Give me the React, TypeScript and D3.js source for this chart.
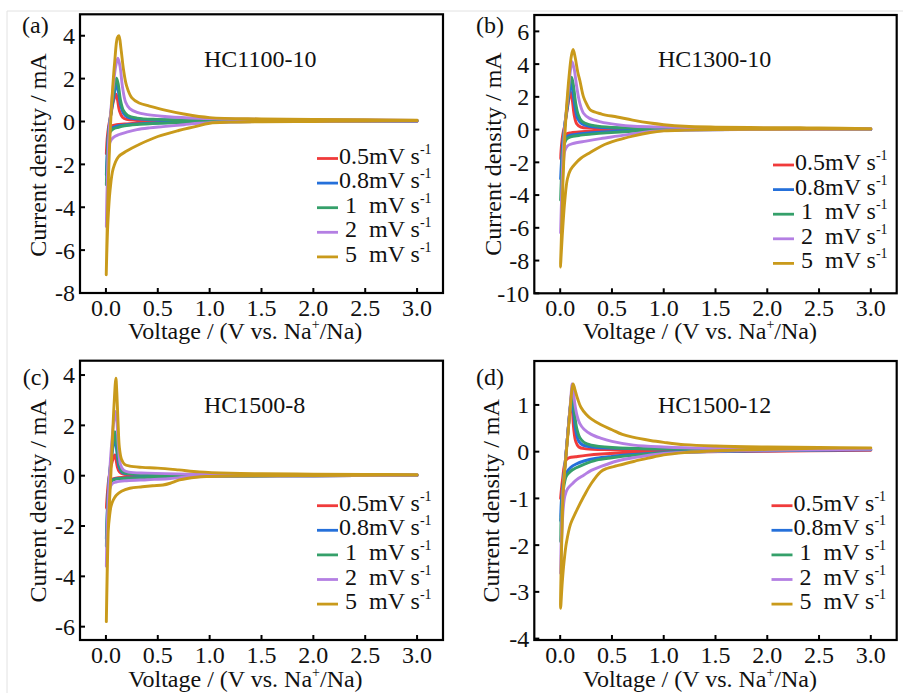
import React from "react";
import * as d3 from "d3";

type P = [number, number];

// ---------- data (Voltage V, Current mA) ----------
// Panel (a) HC1100-10
const A_05: P[] = [[3.0,0.01],[2.0,0.0],[1.0,-0.01],[0.5,-0.04],[0.3,-0.08],[0.18,-0.12],[0.1,-0.15],[0.06,-0.2],[0.035,-0.35],[0.02,-0.6],[0.01,-1.0],[0.004,-1.5],
  [0.012,-0.8],[0.025,-0.25],[0.045,0.25],[0.07,0.9],[0.088,1.2],[0.098,1.27],[0.112,1.0],[0.13,0.5],[0.16,0.2],[0.2,0.1],[0.3,0.06],[1.0,0.04],[2.0,0.03],[3.0,0.02]];
const A_08: P[] = [[3.0,0.02],[2.0,0.0],[1.0,-0.01],[0.6,-0.05],[0.35,-0.1],[0.2,-0.15],[0.12,-0.2],[0.07,-0.28],[0.04,-0.4],[0.025,-0.8],[0.012,-1.5],[0.004,-2.5],
  [0.012,-1.5],[0.025,-0.5],[0.045,0.25],[0.07,1.0],[0.09,1.55],[0.1,1.75],[0.118,1.45],[0.14,0.8],[0.17,0.38],[0.21,0.2],[0.3,0.12],[0.5,0.08],[1.0,0.06],[2.0,0.04],[3.0,0.03]];
const A_1: P[] = [[3.0,0.02],[2.0,0.0],[1.0,-0.01],[0.7,-0.05],[0.45,-0.1],[0.3,-0.14],[0.18,-0.2],[0.12,-0.27],[0.07,-0.35],[0.04,-0.5],[0.025,-0.9],[0.012,-1.8],[0.004,-2.95],
  [0.012,-1.8],[0.025,-0.6],[0.045,0.3],[0.07,1.2],[0.09,1.8],[0.103,2.02],[0.12,1.7],[0.14,1.0],[0.17,0.5],[0.21,0.28],[0.3,0.16],[0.5,0.1],[1.0,0.07],[2.0,0.05],[3.0,0.04]];
const A_2: P[] = [[3.0,0.02],[2.0,0.0],[1.2,-0.02],[0.9,-0.08],[0.75,-0.15],[0.55,-0.24],[0.42,-0.3],[0.3,-0.38],[0.2,-0.5],[0.12,-0.62],[0.07,-0.75],[0.04,-0.95],[0.025,-1.6],[0.012,-3.0],[0.004,-4.9],
  [0.012,-3.0],[0.025,-1.0],[0.045,0.4],[0.07,1.6],[0.095,2.6],[0.115,2.95],[0.135,2.6],[0.16,1.6],[0.19,0.9],[0.23,0.6],[0.3,0.42],[0.4,0.32],[0.6,0.22],[0.9,0.15],[1.5,0.1],[2.2,0.08],[3.0,0.05]];
const A_5: P[] = [[3.0,0.04],[2.5,0.02],[2.0,0.0],[1.5,-0.01],[1.2,-0.03],[1.0,-0.08],[0.85,-0.25],[0.7,-0.42],[0.5,-0.7],[0.33,-1.05],[0.2,-1.38],[0.12,-1.65],[0.07,-2.2],[0.04,-3.2],[0.02,-4.6],[0.008,-6.2],[0.003,-7.15],
  [0.012,-5.0],[0.025,-2.5],[0.04,-0.6],[0.06,1.2],[0.085,2.8],[0.11,3.9],[0.125,4.0],[0.145,3.4],[0.17,2.4],[0.2,1.65],[0.25,1.1],[0.32,0.86],[0.42,0.72],[0.58,0.52],[0.75,0.35],[1.0,0.18],[1.5,0.12],[2.0,0.1],[2.5,0.08],[3.0,0.06]];

// Panel (b) HC1300-10
const B_05: P[] = [[3.0,0.01],[2.0,0.0],[1.0,-0.02],[0.5,-0.06],[0.3,-0.1],[0.18,-0.15],[0.1,-0.2],[0.06,-0.28],[0.035,-0.5],[0.02,-0.9],[0.01,-1.4],[0.004,-1.8],
  [0.012,-1.0],[0.025,-0.3],[0.045,0.3],[0.07,1.3],[0.088,2.0],[0.1,2.3],[0.115,1.9],[0.135,0.9],[0.16,0.35],[0.2,0.15],[0.3,0.08],[1.0,0.04],[2.0,0.03],[3.0,0.02]];
const B_08: P[] = [[3.0,0.02],[2.0,0.0],[1.0,-0.02],[0.6,-0.08],[0.4,-0.15],[0.25,-0.22],[0.15,-0.3],[0.08,-0.38],[0.05,-0.5],[0.03,-0.9],[0.015,-1.8],[0.004,-3.0],
  [0.012,-2.0],[0.025,-0.8],[0.045,0.3],[0.07,1.4],[0.09,2.4],[0.105,2.8],[0.122,2.3],[0.145,1.3],[0.17,0.65],[0.21,0.35],[0.28,0.2],[0.5,0.1],[1.0,0.06],[2.0,0.04],[3.0,0.03]];
const B_1: P[] = [[3.0,0.02],[2.0,0.0],[1.0,-0.03],[0.7,-0.1],[0.45,-0.2],[0.3,-0.28],[0.18,-0.36],[0.1,-0.45],[0.06,-0.6],[0.035,-1.0],[0.02,-2.0],[0.01,-3.2],[0.004,-4.3],
  [0.012,-3.0],[0.025,-1.2],[0.045,0.3],[0.07,1.6],[0.093,2.8],[0.11,3.2],[0.128,2.7],[0.15,1.6],[0.175,0.9],[0.21,0.5],[0.28,0.3],[0.4,0.18],[0.7,0.1],[1.2,0.07],[2.0,0.05],[3.0,0.03]];
const B_2: P[] = [[3.0,0.02],[2.0,0.0],[1.2,-0.03],[0.9,-0.1],[0.71,-0.25],[0.55,-0.4],[0.39,-0.55],[0.25,-0.7],[0.12,-0.86],[0.07,-1.0],[0.045,-1.3],[0.03,-2.2],[0.015,-4.0],[0.004,-6.3],
  [0.012,-4.5],[0.025,-2.0],[0.045,0.2],[0.07,1.8],[0.095,3.4],[0.115,4.15],[0.135,3.7],[0.16,2.6],[0.19,1.6],[0.225,1.0],[0.28,0.7],[0.39,0.47],[0.55,0.3],[0.71,0.2],[1.0,0.15],[1.5,0.1],[2.0,0.08],[3.0,0.05]];
const B_5: P[] = [[3.0,0.04],[2.5,0.03],[2.0,0.02],[1.5,0.0],[1.2,-0.03],[1.0,-0.08],[0.87,-0.18],[0.7,-0.4],[0.55,-0.65],[0.4,-1.0],[0.29,-1.4],[0.2,-1.75],[0.15,-2.05],[0.1,-2.45],[0.07,-3.0],[0.045,-4.3],[0.025,-6.0],[0.01,-7.6],[0.003,-8.4],
  [0.012,-6.5],[0.025,-3.5],[0.04,-1.0],[0.06,1.2],[0.085,3.2],[0.108,4.5],[0.125,4.9],[0.145,4.4],[0.17,3.5],[0.19,3.0],[0.225,2.0],[0.26,1.5],[0.29,1.2],[0.4,0.95],[0.55,0.77],[0.7,0.58],[0.87,0.4],[1.0,0.3],[1.2,0.2],[1.5,0.15],[2.0,0.12],[2.5,0.1],[3.0,0.06]];

// Panel (c) HC1500-8
const C_05: P[] = [[3.0,0.01],[2.0,0.0],[1.0,-0.01],[0.5,-0.03],[0.25,-0.06],[0.12,-0.08],[0.07,-0.12],[0.04,-0.25],[0.02,-0.6],[0.01,-1.0],[0.004,-1.3],
  [0.012,-0.8],[0.025,-0.2],[0.04,0.2],[0.06,0.55],[0.075,0.75],[0.085,0.82],[0.097,0.65],[0.11,0.35],[0.13,0.15],[0.16,0.07],[0.25,0.05],[1.0,0.03],[3.0,0.02]];
const C_08: P[] = [[3.0,0.02],[2.0,0.0],[1.0,-0.02],[0.6,-0.04],[0.35,-0.07],[0.2,-0.09],[0.1,-0.12],[0.06,-0.18],[0.035,-0.35],[0.02,-0.9],[0.01,-1.7],[0.004,-2.5],
  [0.012,-1.6],[0.025,-0.45],[0.04,0.25],[0.06,0.9],[0.075,1.3],[0.086,1.45],[0.098,1.2],[0.112,0.7],[0.13,0.3],[0.16,0.12],[0.22,0.07],[0.5,0.04],[1.5,0.03],[3.0,0.02]];
const C_1: P[] = [[3.0,0.02],[2.0,0.0],[1.0,-0.02],[0.6,-0.05],[0.35,-0.08],[0.2,-0.1],[0.1,-0.13],[0.06,-0.2],[0.035,-0.4],[0.02,-1.0],[0.01,-1.9],[0.004,-2.8],
  [0.012,-1.8],[0.025,-0.5],[0.04,0.3],[0.06,1.0],[0.075,1.5],[0.087,1.75],[0.1,1.4],[0.115,0.8],[0.135,0.35],[0.16,0.15],[0.22,0.08],[0.5,0.05],[1.5,0.03],[3.0,0.02]];
const C_2: P[] = [[3.0,0.02],[2.0,0.0],[1.0,-0.02],[0.8,-0.05],[0.6,-0.12],[0.4,-0.16],[0.2,-0.2],[0.1,-0.25],[0.06,-0.32],[0.035,-0.55],[0.02,-1.2],[0.01,-2.4],[0.004,-3.6],
  [0.012,-2.3],[0.025,-0.7],[0.04,0.4],[0.06,1.5],[0.08,2.3],[0.092,2.55],[0.105,2.2],[0.12,1.2],[0.14,0.45],[0.17,0.22],[0.22,0.14],[0.4,0.1],[0.8,0.06],[1.5,0.04],[3.0,0.03]];
const C_5: P[] = [[3.0,0.03],[2.5,0.02],[2.0,0.01],[1.5,0.0],[1.2,-0.01],[1.0,-0.03],[0.87,-0.06],[0.71,-0.17],[0.62,-0.3],[0.55,-0.37],[0.45,-0.4],[0.35,-0.44],[0.23,-0.5],[0.15,-0.62],[0.1,-0.78],[0.07,-0.97],[0.05,-1.2],[0.035,-1.6],[0.022,-2.2],[0.012,-3.8],[0.004,-5.8],
  [0.012,-4.0],[0.025,-1.8],[0.045,-0.2],[0.06,1.2],[0.078,2.8],[0.096,3.87],[0.105,3.3],[0.118,2.0],[0.13,1.1],[0.15,0.65],[0.18,0.45],[0.23,0.38],[0.35,0.33],[0.5,0.3],[0.7,0.23],[0.9,0.15],[1.2,0.1],[1.5,0.08],[2.0,0.06],[2.5,0.05],[3.0,0.04]];

// Panel (d) HC1500-12
const D_05: P[] = [[3.0,0.03],[2.0,0.01],[1.0,-0.01],[0.6,-0.03],[0.4,-0.05],[0.25,-0.08],[0.15,-0.11],[0.09,-0.13],[0.06,-0.17],[0.04,-0.3],[0.025,-0.55],[0.012,-0.8],[0.004,-1.0],
  [0.01,-0.85],[0.02,-0.7],[0.03,-0.6],[0.06,0.05],[0.09,0.8],[0.105,1.05],[0.11,1.1],[0.118,0.9],[0.13,0.5],[0.15,0.22],[0.18,0.1],[0.25,0.06],[0.5,0.04],[1.5,0.03],[3.0,0.03]];
const D_08: P[] = [[3.0,0.04],[2.0,0.02],[1.0,-0.02],[0.7,-0.06],[0.5,-0.1],[0.35,-0.14],[0.23,-0.2],[0.15,-0.27],[0.1,-0.34],[0.06,-0.45],[0.035,-0.65],[0.02,-0.95],[0.01,-1.2],[0.004,-1.5],
  [0.01,-1.1],[0.02,-0.85],[0.03,-0.65],[0.06,0.05],[0.09,0.8],[0.108,1.15],[0.113,1.22],[0.122,1.05],[0.135,0.7],[0.155,0.4],[0.18,0.22],[0.22,0.14],[0.3,0.1],[0.6,0.07],[1.5,0.05],[3.0,0.04]];
const D_1: P[] = [[3.0,0.05],[2.0,0.03],[1.5,0.01],[1.0,-0.03],[0.7,-0.08],[0.5,-0.13],[0.35,-0.18],[0.23,-0.27],[0.15,-0.35],[0.1,-0.42],[0.06,-0.52],[0.035,-0.75],[0.02,-1.1],[0.01,-1.5],[0.004,-1.95],
  [0.01,-1.4],[0.02,-1.0],[0.03,-0.7],[0.06,0.05],[0.09,0.8],[0.108,1.2],[0.115,1.3],[0.125,1.15],[0.14,0.8],[0.16,0.5],[0.19,0.3],[0.23,0.2],[0.3,0.14],[0.5,0.09],[1.0,0.06],[2.0,0.05],[3.0,0.05]];
const D_2: P[] = [[3.0,0.05],[2.5,0.04],[2.0,0.03],[1.5,0.01],[1.0,-0.04],[0.71,-0.13],[0.55,-0.2],[0.39,-0.32],[0.3,-0.4],[0.23,-0.5],[0.16,-0.6],[0.12,-0.68],[0.07,-0.8],[0.045,-0.95],[0.03,-1.2],[0.015,-1.8],[0.004,-2.6],
  [0.01,-1.9],[0.02,-1.2],[0.03,-0.75],[0.06,0.05],[0.09,0.8],[0.108,1.3],[0.115,1.45],[0.125,1.35],[0.14,1.05],[0.16,0.8],[0.19,0.6],[0.23,0.48],[0.3,0.37],[0.39,0.29],[0.5,0.22],[0.71,0.14],[1.0,0.1],[1.5,0.07],[2.0,0.06],[3.0,0.05]];
const D_5: P[] = [[3.0,0.08],[2.5,0.07],[2.0,0.05],[1.5,0.02],[1.2,-0.02],[1.0,-0.07],[0.85,-0.14],[0.71,-0.21],[0.55,-0.3],[0.45,-0.36],[0.39,-0.43],[0.3,-0.68],[0.23,-0.95],[0.15,-1.3],[0.1,-1.55],[0.06,-1.95],[0.04,-2.3],[0.02,-2.8],[0.004,-3.35],
  [0.01,-2.4],[0.02,-1.5],[0.03,-0.8],[0.06,0.0],[0.09,0.75],[0.115,1.35],[0.125,1.45],[0.14,1.35],[0.17,1.12],[0.2,0.95],[0.25,0.8],[0.3,0.7],[0.39,0.58],[0.5,0.47],[0.6,0.37],[0.7,0.31],[0.87,0.24],[1.0,0.2],[1.2,0.15],[1.5,0.12],[2.0,0.1],[2.5,0.09],[3.0,0.08]];

const RATE_NUMS = ["0.5", "0.8", "\u00A01\u00A0\u00A0", "\u00A02\u00A0\u00A0", "\u00A05\u00A0\u00A0"];
const RATE_COLORS = ["#f03b3b", "#2570da", "#35a06a", "#b47fe3", "#c99a1b"];
const X_TICKS = [0, 0.5, 1.0, 1.5, 2.0, 2.5, 3.0];
const Y_TICKS_A = [-8, -6, -4, -2, 0, 2, 4];
const Y_TICKS_B = [-10, -8, -6, -4, -2, 0, 2, 4, 6];
const Y_TICKS_C = [-6, -4, -2, 0, 2, 4];
const Y_TICKS_D = [-4, -3, -2, -1, 0, 1];
const TITLES = ["HC1100-10", "HC1300-10", "HC1500-8", "HC1500-12"];
const LETTERS = ["(a)", "(b)", "(c)", "(d)"];

const FONT = "'Liberation Serif', 'Times New Roman', serif";

interface PanelCfg {
  series: P[][];
  yTicks: number[];
  yDomain: [number, number];
  left: number; right: number; top: number; bottom: number;
  title: string; titleX: number; titleY: number;
  letter: string; letterX: number; letterY: number;
  yLabelX: number; yLabelY: number;
  xLabelX: number; xLabelY: number;
  legLineX: number; legY0: number;
  id: string;
}

function Panel({ c }: { c: PanelCfg }) {
  const xs = d3.scaleLinear().domain([-0.25, 3.25]).range([c.left, c.right]);
  const ys = d3.scaleLinear().domain(c.yDomain).range([c.bottom, c.top]);
  const line = d3.line<P>().x(d => xs(d[0])).y(d => ys(d[1])).curve(d3.curveCatmullRom.alpha(0.5));
  const legStep = 24.6;
  return (
    <g>
      <defs>
        <clipPath id={"clip" + c.id}>
          <rect x={c.left} y={c.top} width={c.right - c.left} height={c.bottom - c.top} />
        </clipPath>
      </defs>
      <g clipPath={`url(#clip${c.id})`}>
        {c.series.map((s, i) => (
          <path key={i} d={line(s) || ""} fill="none" stroke={RATE_COLORS[i]} strokeWidth={2.9} strokeLinejoin="round" strokeLinecap="round" />
        ))}
      </g>
      <rect x={c.left} y={c.top} width={c.right - c.left} height={c.bottom - c.top} fill="none" stroke="#000" strokeWidth={2.2} />
      {X_TICKS.map(t => (
        <g key={"x" + t}>
          <line x1={xs(t)} x2={xs(t)} y1={c.bottom} y2={c.bottom - 5} stroke="#000" strokeWidth={2} />
          <text x={xs(t)} y={c.bottom + 23} textAnchor="middle" fontSize={24} fontFamily={FONT} fill="#111">{t.toFixed(1)}</text>
        </g>
      ))}
      {c.yTicks.map(t => (
        <g key={"y" + t}>
          <line x1={c.left} x2={c.left + 5} y1={ys(t)} y2={ys(t)} stroke="#000" strokeWidth={2} />
          <text x={c.left - 5} y={ys(t)} dy="0.35em" textAnchor="end" fontSize={24} fontFamily={FONT} fill="#111">{String(t)}</text>
        </g>
      ))}
      <text x={c.titleX} y={c.titleY} fontSize={24} fontFamily={FONT} fill="#111">{c.title}</text>
      <text x={c.letterX} y={c.letterY} fontSize={24} fontFamily={FONT} fill="#111">{c.letter}</text>
      <text transform={`translate(${c.yLabelX},${c.yLabelY}) rotate(-90)`} textAnchor="middle" fontSize={24} fontFamily={FONT} fill="#111">Current density / mA</text>
      <text x={c.xLabelX} y={c.xLabelY} fontSize={24} fontFamily={FONT} fill="#111">
        Voltage / (V vs. Na<tspan fontSize={14} dy={-10}>+</tspan><tspan dy={10}>/Na)</tspan>
      </text>
      {RATE_NUMS.map((r, i) => {
        const by = c.legY0 + i * legStep;
        return (
          <g key={"l" + i}>
            <line x1={c.legLineX} x2={c.legLineX + 21} y1={by - 5} y2={by - 5} stroke={RATE_COLORS[i]} strokeWidth={2.8} />
            <text x={c.legLineX + 22} y={by} fontSize={24} fontFamily={FONT} fill="#111">
              {r + "mV s"}<tspan fontSize={14} dy={-10}>-1</tspan>
            </text>
          </g>
        );
      })}
    </g>
  );
}

export default function App() {
  const panels: PanelCfg[] = [
    { id: "a", series: [A_05, A_08, A_1, A_2, A_5], yTicks: Y_TICKS_A, yDomain: [-8, 5],
      left: 80, right: 443, top: 14.3, bottom: 293, title: TITLES[0], titleX: 204, titleY: 66.5,
      letter: LETTERS[0], letterX: 22, letterY: 33, yLabelX: 46, yLabelY: 155, xLabelX: 128, xLabelY: 339,
      legLineX: 317, legY0: 163.5 },
    { id: "b", series: [B_05, B_08, B_1, B_2, B_5], yTicks: Y_TICKS_B, yDomain: [-10, 7],
      left: 534.3, right: 896.7, top: 15, bottom: 293.3, title: TITLES[1], titleX: 658, titleY: 66.5,
      letter: LETTERS[1], letterX: 476, letterY: 33, yLabelX: 501, yLabelY: 154, xLabelX: 582.7, xLabelY: 339,
      legLineX: 773, legY0: 170 },
    { id: "c", series: [C_05, C_08, C_1, C_2, C_5], yTicks: Y_TICKS_C, yDomain: [-6.53, 4.57],
      left: 80, right: 443, top: 360.7, bottom: 640, title: TITLES[2], titleX: 204, titleY: 413.3,
      letter: LETTERS[2], letterX: 22.7, letterY: 385, yLabelX: 46, yLabelY: 500.8, xLabelX: 128.3, xLabelY: 686.5,
      legLineX: 317, legY0: 510.7 },
    { id: "d", series: [D_05, D_08, D_1, D_2, D_5], yTicks: Y_TICKS_D, yDomain: [-4.03, 1.94],
      left: 534.3, right: 896.7, top: 361, bottom: 640, title: TITLES[3], titleX: 658, titleY: 413.3,
      letter: LETTERS[3], letterX: 476, letterY: 385, yLabelX: 499, yLabelY: 500.8, xLabelX: 582.7, xLabelY: 686.5,
      legLineX: 771.5, legY0: 510.7 },
  ];
  return (
    <svg width={903} height={693} style={{ position: "absolute", left: 0, top: 0, background: "#fff" }}>
      <rect x={0} y={0} width={903} height={693} fill="#fff" />
      <line x1={7} x2={903} y1={11} y2={11} stroke="#e2e2e2" strokeWidth={1} />
      <line x1={7} x2={7} y1={11} y2={693} stroke="#e2e2e2" strokeWidth={1} />
      {panels.map(p => <Panel key={p.id} c={p} />)}
    </svg>
  );
}
